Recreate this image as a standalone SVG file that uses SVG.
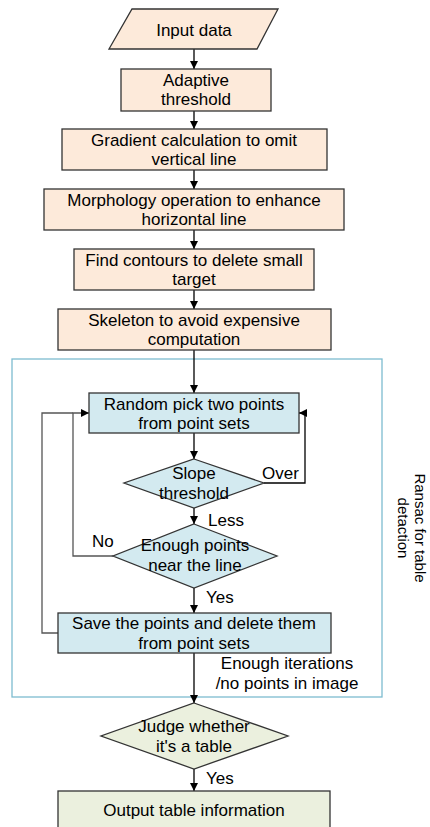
<svg xmlns="http://www.w3.org/2000/svg" width="430" height="827" viewBox="0 0 430 827">
<defs>
<marker id="ah" markerWidth="8" markerHeight="8" refX="8" refY="4" orient="auto" markerUnits="userSpaceOnUse">
<path d="M0,0 L8,4 L0,8 Z" fill="#000"/>
</marker>
<style>
text{font-family:"Liberation Sans",Arial,sans-serif;font-size:17px;fill:#000;}
.c{text-anchor:middle;}
.peach{fill:#FDEADA;stroke:#333;stroke-width:1.3;}
.blue{fill:#D3EAF0;stroke:#333;stroke-width:1.3;}
.green{fill:#EBF0DE;stroke:#333;stroke-width:1.3;}
.ln{fill:none;stroke:#000;stroke-width:1.3;}
.gl{fill:none;stroke:#555;stroke-width:1.3;}
.rot{font-size:15px;text-anchor:middle;}
</style>
</defs>
<rect width="430" height="827" fill="#fff"/>
<g id="container">
<rect x="12" y="359" width="370" height="338" fill="none" stroke="#7DBCD0" stroke-width="1.3"/>
<text class="rot" transform="translate(415,528) rotate(90)">Ransac for table</text>
<text class="rot" transform="translate(398,528) rotate(90)">detaction</text>
</g>
<g id="connectors">
<line class="ln" x1="194" y1="49" x2="194" y2="69" marker-end="url(#ah)"/>
<line class="ln" x1="194" y1="111" x2="194" y2="129" marker-end="url(#ah)"/>
<line class="ln" x1="194" y1="170" x2="194" y2="189" marker-end="url(#ah)"/>
<line class="ln" x1="194" y1="230" x2="194" y2="249" marker-end="url(#ah)"/>
<line class="ln" x1="194" y1="290" x2="194" y2="309" marker-end="url(#ah)"/>
<line class="ln" x1="194" y1="350" x2="194" y2="393" marker-end="url(#ah)"/>
<line class="ln" x1="194" y1="433" x2="194" y2="459" marker-end="url(#ah)"/>
<line class="ln" x1="194" y1="508" x2="194" y2="524" marker-end="url(#ah)"/>
<line class="ln" x1="194" y1="588" x2="194" y2="613" marker-end="url(#ah)"/>
<line class="ln" x1="194" y1="653" x2="194" y2="703" marker-end="url(#ah)"/>
<line class="ln" x1="194" y1="769" x2="194" y2="791" marker-end="url(#ah)"/>
<polyline class="ln" points="264,483 305,483 305,413 299,413" marker-end="url(#ah)"/>
<polyline class="gl" points="113,556 73,556 73,413 89,413" marker-end="url(#ah)"/>
<polyline class="gl" points="58,633 42,633 42,413 73,413"/>
<text x="262" y="479">Over</text>
<text x="208" y="526">Less</text>
<text x="92" y="547">No</text>
<text x="206" y="603">Yes</text>
<text class="c" x="287" y="669">Enough iterations</text>
<text class="c" x="287" y="689">/no points in image</text>
<text x="206" y="784">Yes</text>
</g>
<g id="input">
<polygon class="peach" points="132,9 278,9 257,49 109,49"/>
<text class="c" x="194" y="36">Input data</text>
</g>
<g id="adaptive">
<rect class="peach" x="121" y="69" width="150" height="42"/>
<text class="c" x="196" y="86">Adaptive</text>
<text class="c" x="196" y="105">threshold</text>
</g>
<g id="gradient">
<rect class="peach" x="62" y="129" width="265" height="41"/>
<text class="c" x="194" y="146">Gradient calculation to omit</text>
<text class="c" x="194" y="165">vertical line</text>
</g>
<g id="morphology">
<rect class="peach" x="44" y="189" width="300" height="41"/>
<text class="c" x="194" y="206">Morphology operation to enhance</text>
<text class="c" x="194" y="225">horizontal line</text>
</g>
<g id="contours">
<rect class="peach" x="74" y="249" width="240" height="41"/>
<text class="c" x="194" y="266">Find contours to delete small</text>
<text class="c" x="194" y="285">target</text>
</g>
<g id="skeleton">
<rect class="peach" x="58" y="309" width="273" height="41"/>
<text class="c" x="194" y="326">Skeleton to avoid expensive</text>
<text class="c" x="194" y="345">computation</text>
</g>
<g id="random">
<rect class="blue" x="89" y="393" width="210" height="40"/>
<text class="c" x="194" y="410">Random pick two points</text>
<text class="c" x="194" y="429">from point sets</text>
</g>
<g id="slope">
<polygon class="blue" points="194,459 264,483 194,508 124,483"/>
<text class="c" x="194" y="479">Slope</text>
<text class="c" x="194" y="499">threshold</text>
</g>
<g id="enough">
<polygon class="blue" points="194,524 277,556 194,588 113,556"/>
<text class="c" x="195" y="551">Enough points</text>
<text class="c" x="195" y="571">near the line</text>
</g>
<g id="save">
<rect class="blue" x="58" y="613" width="273" height="40"/>
<text class="c" x="194" y="629">Save the points and delete them</text>
<text class="c" x="194" y="649">from point sets</text>
</g>
<g id="judge">
<polygon class="green" points="194,703 288,736 194,769 101,736"/>
<text class="c" x="194" y="732">Judge whether</text>
<text class="c" x="194" y="752">it's a table</text>
</g>
<g id="output">
<rect class="green" x="58" y="791" width="272" height="50"/>
<text class="c" x="194" y="816">Output table information</text>
</g>
</svg>
